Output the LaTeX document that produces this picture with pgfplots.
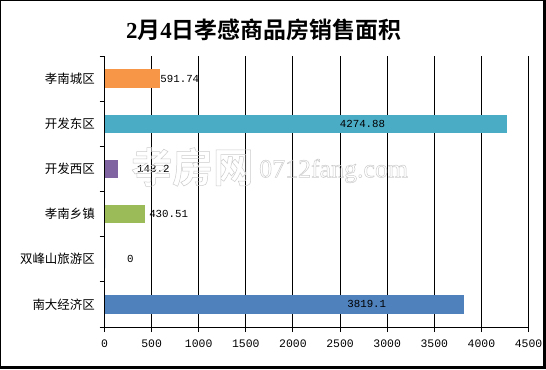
\documentclass[border=0pt]{standalone}
\usepackage{fontspec}
\usepackage{pgfplots}
\pgfplotsset{compat=1.18}
\newfontfamily\cjk{Noto Sans CJK SC}
\newfontfamily\cjkb{Noto Sans CJK SC Bold}
\newfontfamily\monofont{Liberation Mono}
\newfontfamily\serifb{Liberation Serif}
\definecolor{cOrange}{HTML}{F79646}
\definecolor{cTeal}{HTML}{4BACC6}
\definecolor{cPurple}{HTML}{8064A2}
\definecolor{cGreen}{HTML}{9BBB59}
\definecolor{cBlue}{HTML}{4F81BD}
\newcommand\outl[1]{\special{pdf:code q 1 Tr 0.5 w 0.8 G}#1\special{pdf:code Q}}
\begin{document}
\begin{tikzpicture}[x=1bp,y=1bp]
\fill[black] (0,0) rectangle (546,369);
\fill[white] (1,3.5) rectangle (542.5,367.5);
\node[font={\cjkb\fontsize{23}{25}\selectfont}] at (263.5,339) {{\serifb\bfseries 2}月{\serifb\bfseries 4}日孝感商品房销售面积};
\begin{axis}[
  at={(104.5bp,42bp)}, anchor=south west,
  scale only axis, width=424bp, height=271bp,
  xbar, bar width=18.4bp,
  xmin=0, xmax=4500, ymin=-0.5, ymax=5.5,
  axis lines*=left,
  axis line style={-, black, line width=1bp},
  xtick={0,500,...,4500},
  xticklabels={0,500,1000,1500,2000,2500,3000,3500,4000,4500},
  xticklabel style={font={\monofont\fontsize{11.5}{12}\selectfont}, inner sep=0pt, yshift=-7.5bp},
  xmajorgrids,
  major grid style={black, line width=1bp},
  tick align=outside,
  major tick length=5bp,
  tick style={black, line width=1bp},
  ytick={-0.5,0.5,...,5.5},
  yticklabels={},
  extra y ticks={0,1,2,3,4,5},
  extra y tick labels={南大经济区,双峰山旅游区,孝南乡镇,开发西区,开发东区,孝南城区},
  extra y tick style={tick style={draw=none}, yticklabel style={font={\cjk\fontsize{12.5}{14}\selectfont}, inner sep=0pt, anchor=east, xshift=-4.5bp}},
  point meta=explicit symbolic,
  nodes near coords,
  nodes near coords style={font={\monofont\fontsize{10.8}{12}\selectfont}, inner sep=0pt, anchor=west, text=black},
  clip=false,
]
\addplot[fill=cOrange, draw=none, bar shift=0pt, nodes near coords style={xshift=0bp}] coordinates {(591.74,5) [591.74]};
\addplot[fill=cTeal, draw=none, bar shift=0pt, nodes near coords style={anchor=east, xshift=-122bp}] coordinates {(4274.88,4) [4274.88]};
\addplot[fill=cPurple, draw=none, bar shift=0pt, nodes near coords style={xshift=19bp}] coordinates {(143.2,3) [143.2]};
\addplot[fill=cGreen, draw=none, bar shift=0pt, nodes near coords style={xshift=4bp}] coordinates {(430.51,2) [430.51]};
\addplot[fill=cBlue, draw=none, bar shift=0pt, nodes near coords style={xshift=22.5bp}] coordinates {(0,1) [0]};
\addplot[fill=cBlue, draw=none, bar shift=0pt, nodes near coords style={anchor=east, xshift=-78bp}] coordinates {(3819.1,0) [3819.1]};
\end{axis}
\node[anchor=west, inner sep=0pt, font={\cjkb\fontsize{41}{44}\selectfont}] at (131,202) {\outl{孝房网}};
\node[anchor=west, inner sep=0pt, font={\serifb\fontsize{26}{28}\selectfont}] at (259,198) {\outl{0712fang.com}};
\end{tikzpicture}
\end{document}
